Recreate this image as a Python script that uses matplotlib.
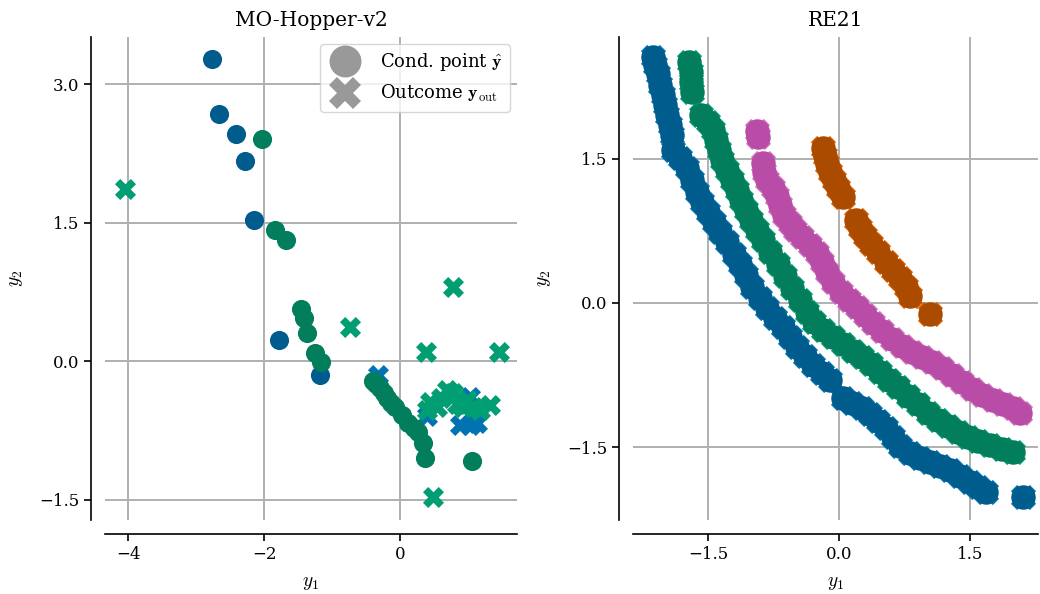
import numpy as np
import matplotlib
matplotlib.use("Agg")
import matplotlib.pyplot as plt
import seaborn as sns
from matplotlib.lines import Line2D

sns.set_style("ticks")
plt.rcParams["font.family"] = ["DejaVu Serif"]
plt.rcParams["mathtext.fontset"] = "cm"
for k in ("text.color", "axes.labelcolor", "xtick.color", "ytick.color", "axes.edgecolor"):
    plt.rcParams[k] = "black"

# --- MO-Hopper-v2: conditioning points (circles) and outcomes (crosses) ---
hop_cond_blue_x = [-2.76, -2.66, -2.41, -2.28, -2.15, -1.78, -1.18]
hop_cond_blue_y = [3.27, 2.68, 2.46, 2.17, 1.53, 0.23, -0.15]
hop_cond_green_x = [-2.03, -1.84, -1.68, -1.46, -1.41, -1.37, -1.25, -1.16,
                    -0.40, -0.35, -0.29, -0.24, -0.19, -0.13, -0.07, 0.03,
                    0.12, 0.20, 0.26, 0.34, 0.37, 1.06]
hop_cond_green_y = [2.41, 1.42, 1.31, 0.57, 0.47, 0.31, 0.09, -0.01,
                    -0.21, -0.25, -0.29, -0.35, -0.40, -0.45, -0.50, -0.58,
                    -0.67, -0.72, -0.77, -0.89, -1.05, -1.08]
hop_out_blue_x = [-0.32, 0.40, 0.88, 1.03, 1.13, 1.03]
hop_out_blue_y = [-0.15, -0.59, -0.69, -0.69, -0.67, -0.39]
hop_out_green_x = [-4.04, -0.74, 0.78, 0.38, 1.46, 0.49,
                   0.44, 0.54, 0.69, 0.78, 0.84, 0.93, 1.07, 1.18, 1.32, 0.40,
                   0.60, 0.98]
hop_out_green_y = [1.86, 0.37, 0.80, 0.10, 0.10, -1.47,
                   -0.44, -0.50, -0.31, -0.35, -0.46, -0.50, -0.50, -0.53, -0.48, -0.53,
                   -0.40, -0.42]

# --- RE21: four conditioning fronts ---
re_blue_x = [-2.13, -2.11, -2.07, -2.05, -2.02, -1.99, -1.97, -1.94, -1.91, -1.90,
             -1.82, -1.74, -1.68, -1.63, -1.57, -1.50, -1.43, -1.36, -1.28, -1.20,
             -1.13, -1.07, -1.00, -0.90, -0.82, -0.73, -0.64, -0.56, -0.48, -0.39,
             -0.30, -0.19, -0.10, 0.05, 0.15, 0.26, 0.36, 0.45, 0.54, 0.62,
             0.70, 0.81, 0.93, 1.04, 1.16, 1.27, 1.39, 1.50, 1.59, 1.68, 2.11]
re_blue_y = [2.56, 2.48, 2.38, 2.27, 2.17, 2.06, 1.96, 1.85, 1.75, 1.59,
             1.51, 1.41, 1.28, 1.16, 1.05, 0.95, 0.84, 0.74, 0.63, 0.51,
             0.41, 0.29, 0.17, 0.05, -0.05, -0.16, -0.25, -0.35, -0.46, -0.55,
             -0.65, -0.73, -0.80, -0.99, -1.04, -1.09, -1.16, -1.23, -1.30, -1.40,
             -1.49, -1.56, -1.61, -1.66, -1.70, -1.74, -1.80, -1.86, -1.92, -1.97, -2.02]
re_green_x = [-1.72, -1.70, -1.69, -1.68, -1.58, -1.50, -1.44, -1.41, -1.37, -1.34,
              -1.28, -1.23, -1.17, -1.12, -1.07, -1.01, -0.94, -0.87, -0.79, -0.70,
              -0.62, -0.54, -0.45, -0.37, -0.29, -0.18, -0.07, 0.05, 0.16, 0.26,
              0.37, 0.47, 0.57, 0.68, 0.79, 0.90, 1.02, 1.13, 1.25, 1.36,
              1.48, 1.59, 1.73, 1.87, 1.99]
re_green_y = [2.51, 2.41, 2.30, 2.20, 1.96, 1.89, 1.80, 1.70, 1.59, 1.49,
              1.39, 1.28, 1.18, 1.07, 0.97, 0.86, 0.76, 0.66, 0.53, 0.41,
              0.28, 0.16, 0.03, -0.09, -0.20, -0.28, -0.35, -0.43, -0.50, -0.56,
              -0.64, -0.72, -0.80, -0.88, -0.97, -1.05, -1.15, -1.22, -1.28, -1.34,
              -1.40, -1.44, -1.48, -1.52, -1.55]
re_pink_x = [-0.94, -0.93, -0.87, -0.86, -0.82, -0.76, -0.71, -0.68, -0.63, -0.56,
             -0.50, -0.42, -0.33, -0.25, -0.19, -0.14, -0.07, 0.02, 0.11, 0.21,
             0.30, 0.39, 0.49, 0.61, 0.72, 0.84, 0.95, 1.07, 1.18, 1.29,
             1.41, 1.52, 1.64, 1.76, 1.88, 1.99, 2.07]
re_pink_y = [1.79, 1.73, 1.46, 1.36, 1.28, 1.20, 1.11, 1.02, 0.92, 0.83,
             0.76, 0.69, 0.60, 0.52, 0.43, 0.32, 0.22, 0.11, 0.03, -0.04,
             -0.13, -0.21, -0.29, -0.38, -0.45, -0.51, -0.56, -0.61, -0.68, -0.75,
             -0.82, -0.90, -0.96, -1.01, -1.05, -1.09, -1.15]
re_orange_x = [-0.18, -0.16, -0.14, -0.10, -0.06, -0.01, 0.05, 0.19, 0.24, 0.30,
               0.37, 0.45, 0.54, 0.62, 0.70, 0.77, 0.81, 1.04]
re_orange_y = [1.61, 1.53, 1.45, 1.36, 1.28, 1.20, 1.10, 0.86, 0.78, 0.70,
               0.61, 0.53, 0.43, 0.34, 0.26, 0.17, 0.07, -0.11]

# colours
blue, green, orange, pink = "#0173B2", "#029E73", "#D55E00", "#CC78BC"
dblue, dgreen, dorange, dpink = "#015C8E", "#027E5C", "#AA4B00", "#B84CA6"

fig = plt.figure(figsize=(10.4, 5.94), dpi=100)
W, H = 1040, 594
ax1 = fig.add_axes([105 / W, 1 - 520 / H, 412 / W, 483 / H])
ax2 = fig.add_axes([633 / W, 1 - 520 / H, 405 / W, 483 / H])

for ax in (ax1, ax2):
    ax.grid(True, color="#b0b0b0", linewidth=1.4, zorder=0)
    ax.set_axisbelow(True)

s_circ, s_x = 190, 230

# left panel
ax1.scatter(hop_out_blue_x, hop_out_blue_y, marker="X", s=s_x, color=blue, linewidths=0, zorder=3)
ax1.scatter(hop_cond_blue_x, hop_cond_blue_y, marker="o", s=s_circ, color=dblue, linewidths=0, zorder=4)
ax1.scatter(hop_cond_green_x, hop_cond_green_y, marker="o", s=s_circ, color=dgreen, linewidths=0, zorder=4)
ax1.scatter(hop_out_green_x, hop_out_green_y, marker="X", s=s_x, color=green, linewidths=0, zorder=5)

ax1.set_xlim(-4.34, 1.72)
ax1.set_ylim(-1.72, 3.51)
ax1.set_xticks([-4, -2, 0])
ax1.set_yticks([-1.5, 0.0, 1.5, 3.0])
ax1.set_yticklabels(["\u22121.5", "0.0", "1.5", "3.0"])
ax1.set_xticklabels(["\u22124", "\u22122", "0"])
ax1.set_title("MO-Hopper-v2", fontsize=14.5, pad=8)
ax1.set_xlabel("$y_1$", fontsize=14, labelpad=8)
ax1.set_ylabel("$y_2$", fontsize=14, labelpad=10)

handles = [
    Line2D([], [], marker="o", linestyle="none", markersize=23, color="#999999", markeredgewidth=0,
           label="Cond. point $\\hat{\\mathbf{y}}$"),
    Line2D([], [], marker="X", linestyle="none", markersize=23, color="#999999", markeredgewidth=0,
           label="Outcome $\\mathbf{y}_{\\mathrm{out}}$"),
]
ax1.legend(handles=handles, loc="upper right", fontsize=13, frameon=True, framealpha=0.8,
           handletextpad=0.9, labelspacing=0.55, borderpad=0.4, borderaxespad=0.4)

# right panel
for xs, ys, c, dc in [(re_blue_x, re_blue_y, blue, dblue),
                      (re_green_x, re_green_y, green, dgreen),
                      (re_pink_x, re_pink_y, pink, dpink),
                      (re_orange_x, re_orange_y, orange, dorange)]:
    ax2.scatter(xs, ys, marker="X", s=330, color=c, linewidths=0, zorder=3)
    ax2.scatter(xs, ys, marker="o", s=310, color=dc, linewidths=0, zorder=4)

ax2.set_xlim(-2.36, 2.28)
ax2.set_ylim(-2.26, 2.77)
ax2.set_xticks([-1.5, 0.0, 1.5])
ax2.set_yticks([-1.5, 0.0, 1.5])
ax2.set_xticklabels(["\u22121.5", "0.0", "1.5"])
ax2.set_yticklabels(["\u22121.5", "0.0", "1.5"])
ax2.set_title("RE21", fontsize=14.5, pad=8)
ax2.set_xlabel("$y_1$", fontsize=14, labelpad=8)
ax2.set_ylabel("$y_2$", fontsize=14, labelpad=10)

for ax in (ax1, ax2):
    sns.despine(ax=ax, offset=10)
    ax.tick_params(labelsize=12, width=1.2, length=5)
    for sp in ("left", "bottom"):
        ax.spines[sp].set_linewidth(1.2)

fig.savefig("out.png", dpi=100)
